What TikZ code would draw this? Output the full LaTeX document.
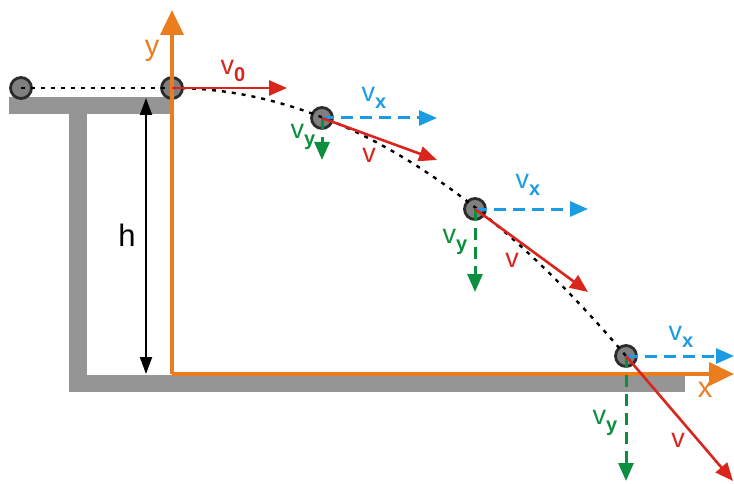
\documentclass[tikz,border=0pt]{standalone}
\usepackage{fontspec}
\setmainfont{Liberation Sans}
\usetikzlibrary{arrows.meta}
\definecolor{cred}{HTML}{DA251D}
\definecolor{cblue}{HTML}{1B9CE2}
\definecolor{cgreen}{HTML}{0B8F3E}
\definecolor{corange}{HTML}{EA7D1E}
\definecolor{cgray}{HTML}{959595}
\definecolor{cball}{HTML}{7F7F7F}
\definecolor{cballline}{HTML}{2B2B2B}
\newcommand\vsub[1]{v\raisebox{-7pt}{\fontsize{20}{20}\selectfont\bfseries #1}}
\begin{document}
\begin{tikzpicture}[x=1pt,y=-1pt,
  ball/.style={circle,minimum size=21pt,inner sep=0pt,draw=cballline,line width=2.8pt,fill=cball},
  traj/.style={draw=black,line width=2.4pt,dash pattern=on 4pt off 6pt},
  redvec/.style={draw=cred,line width=2.6pt,-{Triangle[length=18pt,width=15pt]}},
  bluevec/.style={draw=cblue,line width=3pt,dash pattern=on 12pt off 7pt,-{Triangle[length=18pt,width=15pt]}},
  greenvec/.style={draw=cgreen,line width=3pt,dash pattern=on 12pt off 7pt,-{Triangle[length=18pt,width=15pt]}},
  axis/.style={draw=corange,line width=3.8pt,-{Triangle[length=25pt,width=23pt]}},
  harrow/.style={draw=black,line width=2pt,{Triangle[length=17pt,width=12pt]}-{Triangle[length=17pt,width=12pt]}},
  lbl/.style={inner sep=0pt,font=\fontsize{27}{27}\selectfont},
  axlbl/.style={inner sep=0pt,font=\fontsize{29}{29}\selectfont,text=corange}
]
\useasboundingbox (0,0) rectangle (734,484);
% ground / table
\fill[cgray] (9,97) rectangle (172,114);
\fill[cgray] (69,97) rectangle (87,392);
\fill[cgray] (69,375) rectangle (685,392);
% balls
\node[ball] (b1) at (21,88) {};
\node[ball] (b2) at (172,88) {};
\node[ball] (b3) at (322,118) {};
\node[ball] (b4) at (475,209) {};
\node[ball] (b5) at (626,356) {};
% trajectory
\draw[traj] (b1.center) -- (b2.center);
\draw[traj] (b2.center) .. controls (323.3,88) and (474.7,177.3) .. (b5.center);
% axes
\coordinate (o) at (172,374);
\coordinate (ytip) at (172,10);
\coordinate (xtip) at (734,374);
\draw[axis] (o) -- (ytip);
\draw[axis] (o) -- (xtip);
\node[axlbl] (ylab) at (152,51) {y};
\node[axlbl] (xlab) at (705,390) {x};
% height
\coordinate (htop) at (146,98);
\coordinate (hbot) at (146,374);
\draw[harrow] (htop) -- (hbot);
\node[lbl,font=\fontsize{31}{31}\selectfont] (hlab) at (127,235) {h};
% velocity tips
\coordinate (v0tip) at (287,88);
\coordinate (vx3) at (437,118);
\coordinate (vy3) at (322,160);
\coordinate (v3) at (437,160);
\coordinate (vx4) at (588,209);
\coordinate (vy4) at (475,292);
\coordinate (v4) at (588,292);
\coordinate (vx5) at (734,356);
\coordinate (vy5) at (626,481);
\coordinate (v5) at (733,481);
% vectors
\draw[redvec] (b2.center) -- (v0tip);
\draw[bluevec] (b3.center) -- (vx3);
\draw[greenvec] (b3.center) -- (vy3);
\draw[redvec] (b3.center) -- (v3);
\draw[bluevec] (b4.center) -- (vx4);
\draw[greenvec] (b4.center) -- (vy4);
\draw[redvec] (b4.center) -- (v4);
\draw[bluevec] (b5.center) -- (vx5);
\draw[greenvec] (b5.center) -- (vy5);
\draw[redvec] (b5.center) -- (v5);
% labels
\node[lbl,text=cred] (l0) at (233,71) {\vsub{0}};
\node[lbl,text=cblue] (lx3) at (374,98) {\vsub{x}};
\node[lbl,text=cgreen] (ly3) at (303,137) {\vsub{y}};
\node[lbl,text=cred] (lv3) at (369,155) {v};
\node[lbl,text=cblue] (lx4) at (528,185) {\vsub{x}};
\node[lbl,text=cgreen] (ly4) at (455,242) {\vsub{y}};
\node[lbl,text=cred] (lv4) at (512,260) {v};
\node[lbl,text=cblue] (lx5) at (681,337) {\vsub{x}};
\node[lbl,text=cgreen] (ly5) at (605,423) {\vsub{y}};
\node[lbl,text=cred] (lv5) at (678,440) {v};
\end{tikzpicture}
\end{document}
